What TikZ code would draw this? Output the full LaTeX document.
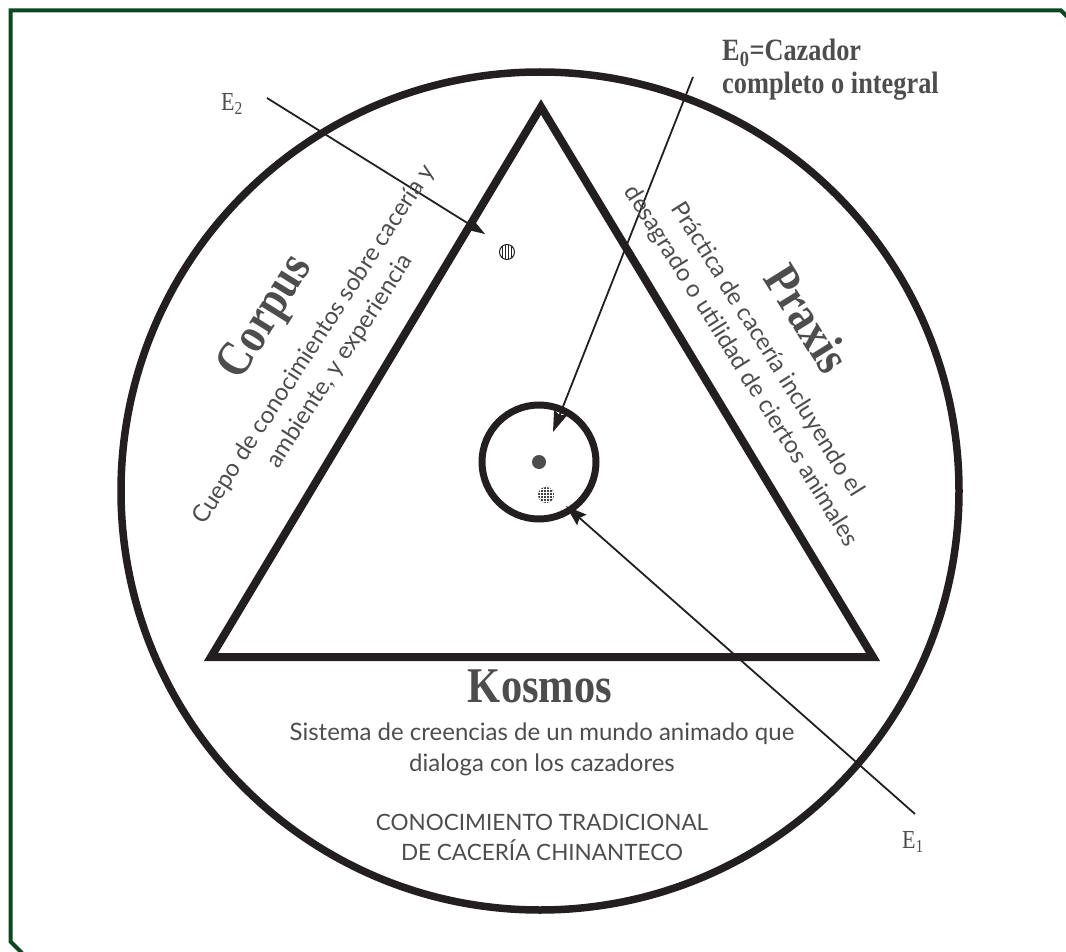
\documentclass[tikz,border=0pt]{standalone}
\usepackage{fontspec}
\setmainfont{Liberation Serif}
\newfontfamily\titlefont[FakeStretch=0.85]{Liberation Serif}
\newfontfamily\bodyfont{Lato}
\usetikzlibrary{arrows.meta}
\definecolor{frameg}{RGB}{12,72,30}
\definecolor{ink}{RGB}{35,31,32}
\definecolor{txt}{RGB}{77,77,77}
\tikzset{
  thick line/.style={draw=ink, line width=7.5},
  arr/.style={draw=ink, line width=1.8, -{Stealth[length=21, width=14, inset=3]}},
  title/.style={text=txt, font=\titlefont\bfseries\fontsize{50}{54}\selectfont, inner sep=0},
  sub/.style={text=txt, font=\bodyfont\fontsize{24}{31}\selectfont, align=center, inner sep=0},
  capsub/.style={text=txt, font=\bodyfont\fontsize{22.5}{30}\selectfont, align=center, inner sep=0},
  elabel/.style={text=txt, font=\titlefont\fontsize{26}{30}\selectfont, inner sep=0},
  dot/.style={circle, inner sep=0, minimum size=#1},
}
\begin{document}
\begin{tikzpicture}[x=1pt,y=-1pt]
\useasboundingbox (0,0) rectangle (1066,952);
% frame
\draw[frameg, line width=4, line join=miter] (22,953) -- (10.5,941.5) -- (10.5,10.5) -- (1061,10.5) -- (1067,16.5);
% big circle
\draw[thick line] (540,491) circle (419);
% triangle
\coordinate (A) at (541,107);
\coordinate (B) at (211,657);
\coordinate (C) at (873,657);
\draw[draw=ink, line width=8, line join=miter] (A) -- (B) -- (C) -- cycle;
% small circle
\node[dot=114, draw=ink, line width=7] (inner) at (539,462) {};
% dots
\node[dot=14, fill=txt] (d0) at (539,462) {};
\node[dot=16, fill=ink!85, path picture={
  \foreach \k in {-6,-3,0,3,6} {
    \draw[white, line width=0.6] ([xshift=\k]path picture bounding box.north) -- ([xshift=\k]path picture bounding box.south);
    \draw[white, line width=0.6] ([yshift=\k]path picture bounding box.west) -- ([yshift=\k]path picture bounding box.east);
  }}] (d1) at (546,495) {};
\node[dot=15, draw=ink, line width=1, path picture={
  \foreach \k in {-4.5,-1.5,1.5,4.5} {
    \draw[ink, line width=1.4] ([xshift=\k]path picture bounding box.north) -- ([xshift=\k]path picture bounding box.south);
  }}] (d2) at (507,252) {};
% arrows
\coordinate (e2s) at (267,98);
\coordinate (e2t) at (485,234);
\coordinate (e0s) at (693,77);
\coordinate (e0t) at (553,432);
\coordinate (e1s) at (915,814);
\coordinate (e1t) at (566,506);
\draw[arr] (e2s) -- (e2t);
\draw[arr] (e0s) -- (e0t);
\draw[arr] (e1s) -- (e1t);
% labels
\node[elabel] (E2) at (232,104) {E\textsubscript{2}};
\node[elabel] (E1) at (913,842) {E\textsubscript{1}};
\node[text=txt, font=\titlefont\bfseries\fontsize{31}{33}\selectfont, align=left, anchor=north west, inner sep=0] (E0) at (722,39) {E\textsubscript{0}=Cazador\\completo o integral};
% titles
\node[title, rotate=58] (corpus) at (267,318) {Corpus};
\node[title, rotate=-58] (praxis) at (808,318) {Praxis};
\node[title] (kosmos) at (540,686) {Kosmos};
% subtitles
\node[sub, rotate=57] (corpussub) at (327,353) {Cuepo de conocimientos sobre cacería y\\ambiente, y experiencia};
\node[sub, rotate=-58] (praxissub) at (754,358) {Práctica de cacería incluyendo el\\desagrado o utilidad de ciertos animales};
\node[sub] (kosmossub) at (542,749) {Sistema de creencias de un mundo animado que\\dialoga con los cazadores};
\node[capsub] (ctc) at (542,837) {CONOCIMIENTO TRADICIONAL\\DE CACERÍA CHINANTECO};
\end{tikzpicture}
\end{document}
